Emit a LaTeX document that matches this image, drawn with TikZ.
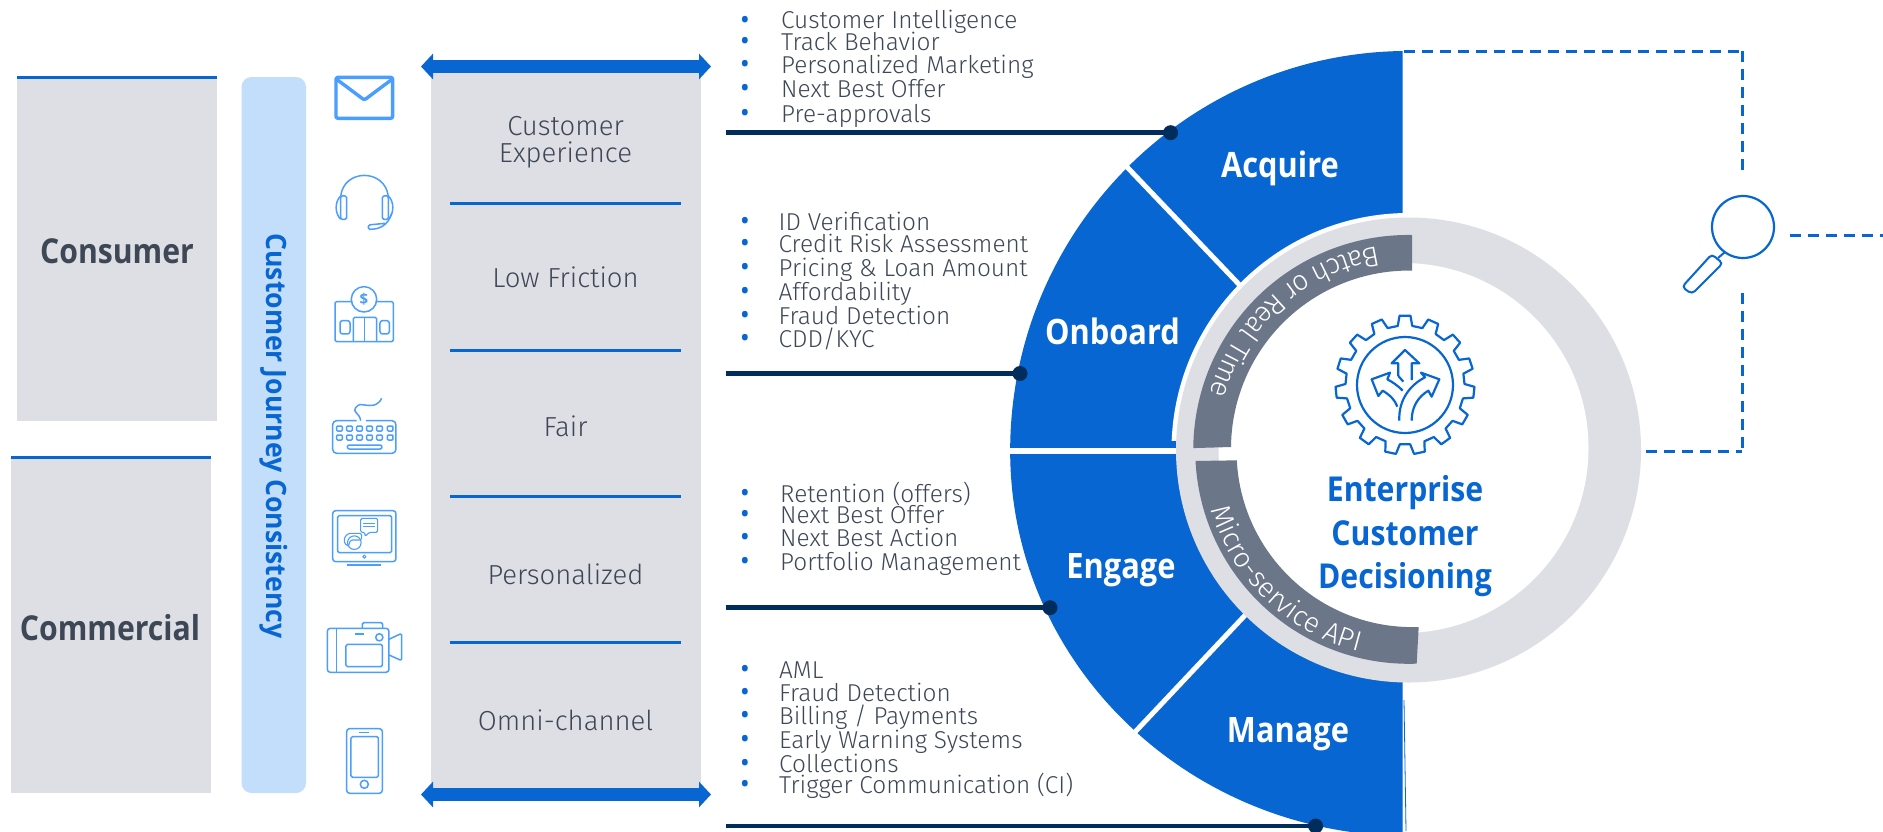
\documentclass[tikz,border=0pt]{standalone}
\usepackage{fontspec}
\usetikzlibrary{arrows.meta,decorations.text}
\setmainfont{Open Sans}
\newfontfamily\lightf[UprightFont=* Light]{Fira Sans}
\newfontfamily\labf[FakeStretch=0.88]{Open Sans}
\newfontfamily\jrnf[FakeStretch=0.95]{Open Sans}
\definecolor{brand}{HTML}{0766D1}
\definecolor{panel}{HTML}{DEDFE5}
\definecolor{barblue}{HTML}{C3DEFB}
\definecolor{ink}{HTML}{3E4756}
\definecolor{arcgrey}{HTML}{6C7689}
\definecolor{navy}{HTML}{002D5B}
\definecolor{iconblue}{HTML}{4A9EFF}
\tikzset{
  panelbox/.style={fill=panel,draw=none},
  topline/.style={draw=brand,line width=3pt},
  sepline/.style={draw=brand,line width=3pt},
  collabel/.style={font=\lightf\fontsize{27.5}{27}\selectfont,text=ink,align=center,inner sep=0pt},
  boldlabel/.style={font=\labf\bfseries\fontsize{34.3}{38}\selectfont,text=ink,inner sep=0pt},
  wheellabel/.style={font=\labf\bfseries\fontsize{35}{36}\selectfont,text=white,inner sep=0pt},
  centerlabel/.style={font=\labf\bfseries\fontsize{34.3}{45}\selectfont,text=brand,inner sep=0pt},
  itm/.style={font=\lightf\fontsize{24.4}{25}\selectfont,text=ink,anchor=west,inner sep=0pt,text height=17pt,text depth=5pt},
  bul/.style={font=\fontsize{27}{22}\selectfont,text=brand,inner sep=0pt},
  leader/.style={draw=navy,line width=4.5pt},
  dotn/.style={circle,fill=navy,minimum size=15pt,inner sep=0pt},
  dashline/.style={draw=brand,line width=3pt,dash pattern=on 11pt off 7pt},
  icon/.style={draw=iconblue,line width=1.5pt,rounded corners=1.5pt,line join=round},
  bigarrow/.style={draw=brand,line width=13pt,{Triangle[length=12pt,width=25pt]}-{Triangle[length=12pt,width=25pt]}},
  gearline/.style={draw=brand,line width=2.2pt,line join=round},
}
\newcommand\listrow[5]{\node[bul] (b#1) at (#2,#3) {•}; \node[itm] (i#1) at (#5,#3) {#4};}
\begin{document}
\begin{tikzpicture}[x=1pt,y=-1pt]
\useasboundingbox (0,0) rectangle (1883,831);
\clip (0,0) rectangle (1883,831);
\fill[white] (0,0) rectangle (1883,831);
% left boxes
\fill[panelbox] (17,77) rectangle (217,421);
\draw[topline] (17,77) -- (217,77);
\fill[panelbox] (11,457) rectangle (211,793);
\draw[topline] (11,457) -- (211,457);
\node[boldlabel] (consumer) at (117,251) {Consumer};
\node[boldlabel] (commercial) at (110,628) {Commercial};
% journey bar
\fill[barblue,rounded corners=10pt] (241.5,77) rectangle (306,793);
\node[font=\jrnf\bfseries\fontsize{28}{30}\selectfont,text=brand,rotate=-90,inner sep=0pt] (journey) at (274,436) {Customer Journey Consistency};
% column
\fill[panelbox] (431,72) rectangle (701,790);
\coordinate (ta) at (421,66.5); \coordinate (tb) at (711,66.5);
\coordinate (ba) at (421,794.5); \coordinate (bb) at (711,794.5);
\draw[bigarrow] (ta) -- (tb);
\draw[bigarrow] (ba) -- (bb);
\foreach \yy in {203,350,496,642} \draw[sepline] (450,\yy) -- (681,\yy);
\node[collabel] (c1) at (565.5,142.5) {Customer\\Experience};
\node[collabel] (c2) at (565.5,277) {Low Friction};
\node[collabel] (c3) at (565.5,426) {Fair};
\node[collabel] (c4) at (565.5,574) {Personalized};
\node[collabel] (c5) at (565.5,720) {Omni-channel};
% icons upper (origin 320,60, 3x)
\begin{scope}[shift={(320,60)},x=0.3333pt,y=-0.3333pt]
 \draw[icon,line width=3.4pt,rounded corners=2pt] (48,52) rectangle (218,175);
 \draw[icon,line width=3.4pt] (50,58) -- (133,120) -- (216,58);
 \draw[icon] (62,410) .. controls (70,325) and (196,325) .. (205,410);
 \draw[icon] (62,408) rectangle (80,478);
 \draw[icon] (187,408) rectangle (205,478);
 \draw[icon] (62,408) .. controls (44,425) and (44,460) .. (62,478);
 \draw[icon] (205,408) .. controls (223,425) and (223,460) .. (205,478);
 \draw[icon] (215,460) .. controls (205,495) and (180,508) .. (145,508) -- (145,495) -- (195,490);
 \draw[icon] (45,725) rectangle (220,845);
 \draw[icon,fill=white] (132,718) circle[radius=12.7pt];
 \node[font=\bfseries\fontsize{15}{16}\selectfont,text=iconblue,inner sep=0pt] (dollar) at (132,718) {\$};
 \draw[icon] (100,845) -- (100,772) -- (170,772) -- (170,845);
 \draw[icon] (134,772) -- (134,845);
 \draw[icon,rounded corners=2.5pt] (60,782) rectangle (90,822);
 \draw[icon,rounded corners=2.5pt] (180,782) rectangle (208,822);
\end{scope}
% icons lower (origin 310,370, 3x)
\begin{scope}[shift={(310,370)},x=0.3333pt,y=-0.3333pt]
 % keyboard
 \draw[icon,rounded corners=4pt] (140,152) -- (68,152) -- (68,250) -- (258,250) -- (258,152) -- (168,152);
 \draw[icon] (152,152) .. controls (150,130) and (125,125) .. (140,110) .. controls (155,95) and (195,125) .. (215,85);
 \foreach \kx in {80,110,140,170,200,232}{
   \draw[icon,rounded corners=1pt] (\kx,168) rectangle +(17,15);
   \draw[icon,rounded corners=1pt] (\kx,195) rectangle +(17,15);
 }
 \draw[icon,rounded corners=2pt] (112,225) rectangle (216,237);
 % monitor
 \draw[icon,rounded corners=3pt] (68,422) rectangle (258,575);
 \draw[icon] (83,437) rectangle (245,548);
 \draw[icon,line width=1pt] (163,560) circle[radius=1.6pt];
 \draw[icon] (112,585) -- (212,585);
 \draw[icon,line width=1.1pt] (152,445) -- (203,445) -- (203,487) -- (178,487) -- (165,500) -- (165,487) -- (152,487) -- cycle;
 \draw[icon,line width=1pt] (160,460) -- (195,460) (160,471) -- (195,471);
 \draw[icon,line width=1.1pt] (133,518) circle[radius=6.8pt];
 \draw[icon,line width=1.1pt] (115,528) -- (103,520) -- (103,503) -- (115,490) -- (155,490) -- (155,510) -- (122,510) -- (115,528);
 % camera
 \draw[icon,rounded corners=3pt] (52,775) rectangle (237,907);
 \draw[icon] (80,775) -- (80,907);
 \draw[icon] (157,775) -- (157,758) -- (218,758) -- (218,775);
 \draw[icon] (237,808) -- (275,790) -- (275,872) -- (237,855);
 \draw[icon] (108,823) rectangle (217,890);
 \draw[icon] (208,802) circle[radius=3.6pt];
 \draw[icon] (134,792) -- (162,792);
 % phone
 \draw[icon,rounded corners=3pt] (110,1076) rectangle (217,1270);
 \draw[icon] (123,1100) rectangle (205,1222);
 \draw[icon] (163,1243) circle[radius=4pt];
 \draw[icon] (148,1088) -- (178,1088);
\end{scope}
% list leaders
\coordinate (l1) at (726,132.7); \coordinate (l2) at (726,373.5);
\coordinate (l3) at (726,607.7); \coordinate (l4) at (726,826);
% blue sectors
\fill[brand] (1402.6,51) arc[start angle=90.8,end angle=180,x radius=398pt,y radius=400pt]
  arc[start angle=180,end angle=269.2,x radius=398pt,y radius=385pt] -- (1402.6,451) -- cycle;
\draw[white,line width=5pt] (1117,156.5) -- (1242,287.5);
\draw[brand,line width=.8pt] (1404,700) -- (1406,831);
\begin{scope}
 \clip (1100,100) rectangle (1403,440);
 \fill[white] (1408.5,450) circle[radius=237pt];
\end{scope}
\draw[white,line width=5.5pt] (1000,451) -- (1240,451);
\draw[white,line width=5pt] (1127,740.5) -- (1250,610);
% leaders above sectors
\node[dotn] (d1) at (1170.6,132.7) {};
\node[dotn] (d2) at (1020,373.5) {};
\node[dotn] (d3) at (1050,607.7) {};
\node[dotn] (d4) at (1315.6,826) {};
\draw[leader] (l1) -- (d1.center);
\draw[leader] (l2) -- (d2.center);
\draw[leader] (l3) -- (d3.center);
\draw[leader] (l4) -- (d4.center);
% ring
\fill[panel] (1408.5,450) circle[radius=232.5pt];
\fill[white] (1403.5,448) circle[radius=185pt];
% dark arcs
\fill[arcgrey] (1412,235) arc[start angle=89,end angle=179.5,radius=215pt]
  -- (1231,447) arc[start angle=179.5,end angle=89,radius=178pt] -- cycle;
\fill[arcgrey] (1195.5,461) arc[start angle=183,end angle=272,radius=214pt]
  -- (1418.7,627) arc[start angle=272,end angle=183,radius=176pt] -- cycle;
\path[decorate,decoration={text along path,text align=center,
   text={|\lightf\fontsize{28}{30}\selectfont\color{white}|Batch or Real Time}}]
  (1408.5,450) ++(86:206pt) arc[start angle=86,end angle=177,radius=206pt];
\path[decorate,decoration={text along path,text align=center,
   text={|\lightf\fontsize{28}{30}\selectfont\color{white}|Micro-service API}}]
  (1409,452) ++(181:206pt) arc[start angle=181,end angle=271,radius=206pt];
% sector labels
\node[wheellabel] (acq) at (1280,168.5) {Acquire};
\node[wheellabel] (onb) at (1112.5,331) {Onboard};
\node[wheellabel] (eng) at (1121,570) {Engage};
\node[wheellabel] (man) at (1288,734.5) {Manage};
\node[centerlabel] (ent) at (1405,493) {Enterprise};
\node[centerlabel] (cus) at (1405,533.5) {Customer};
\node[centerlabel] (dec) at (1405,579.5) {Decisioning};
% gear
\begin{scope}[shift={(1405,385)}]
 \draw[gearline] (83:59.5pt)
  \foreach \i in {0,...,14}{ -- ({90+24*\i-7}:59.5pt) -- ({90+24*\i-4.5}:69.5pt) -- ({90+24*\i+4.5}:69.5pt) -- ({90+24*\i+7}:59.5pt) } -- cycle;
 \draw[gearline] (0,0) circle[radius=48pt];
\end{scope}
\begin{scope}[shift={(1310,300)},x=0.3333pt,y=-0.3333pt]
 \draw[gearline] (265,228) -- (265,190) -- (245,190) -- (285,150) -- (328,190) -- (305,190) -- (305,240);
 \draw[gearline] (265,228) -- (280,245);
 \draw[gearline] (278,272) .. controls (262,255) and (245,245) .. (232,238) -- (240,218) -- (185,238) -- (205,288) -- (218,272) .. controls (240,285) and (255,300) .. (262,320);
 \draw[gearline] (268,362) .. controls (265,300) and (300,255) .. (345,232) -- (333,218) -- (388,238) -- (365,290) -- (355,272) .. controls (325,290) and (305,320) .. (305,362);
\end{scope}
% dashed connectors
\coordinate (da) at (1404,51); \coordinate (db) at (1742,51); \coordinate (dc) at (1742,173);
\coordinate (dd) at (1742,293); \coordinate (de) at (1742,451); \coordinate (df) at (1646,451);
\coordinate (dg) at (1789.5,235); \coordinate (dh) at (1883,235);
\draw[dashline] (da) -- (db);
\draw[dashline] (db) -- (dc);
\draw[dashline] (dd) -- (de);
\draw[dashline] (df) -- (de);
\draw[dashline] (dg) -- (dh);
% magnifier
\draw[brand,line width=2.2pt] (1743,227) circle[radius=31pt];
\draw[brand,line width=2pt,rounded corners=4pt] (1717,259) -- (1723,263) -- (1692,294) -- (1682,287) -- (1712,254) -- cycle;
\draw[brand,line width=2pt] (1725,252) -- (1718,258);
% lists
\listrow{a1}{745}{22.5}{Customer Intelligence}{781}
\listrow{a2}{745}{44}{Track Behavior}{781}
\listrow{a3}{745}{67}{Personalized Marketing}{781}
\listrow{a4}{745}{91}{Next Best Offer}{781}
\listrow{a5}{745}{116}{Pre-approvals}{781}
\listrow{b1}{745}{224}{ID Verification}{778.5}
\listrow{b2}{745}{246}{Credit Risk Assessment}{778.5}
\listrow{b3}{745}{270}{Pricing \& Loan Amount}{778.5}
\listrow{b4}{745}{294}{Affordability}{778.5}
\listrow{b5}{745}{318}{Fraud Detection}{778.5}
\listrow{b6}{745}{341}{CDD/KYC}{778.5}
\listrow{c1}{745}{496}{Retention (offers)}{780}
\listrow{c2}{745}{517}{Next Best Offer}{780}
\listrow{c3}{745}{540}{Next Best Action}{780}
\listrow{c4}{745}{564}{Portfolio Management}{780}
\listrow{d1}{745}{672}{AML}{779}
\listrow{d2}{745}{695}{Fraud Detection}{779}
\listrow{d3}{745}{718}{Billing / Payments}{779}
\listrow{d4}{745}{742}{Early Warning Systems}{779}
\listrow{d5}{745}{766}{Collections}{779}
\listrow{d6}{745}{787}{Trigger Communication (CI)}{779}
\end{tikzpicture}
\end{document}
